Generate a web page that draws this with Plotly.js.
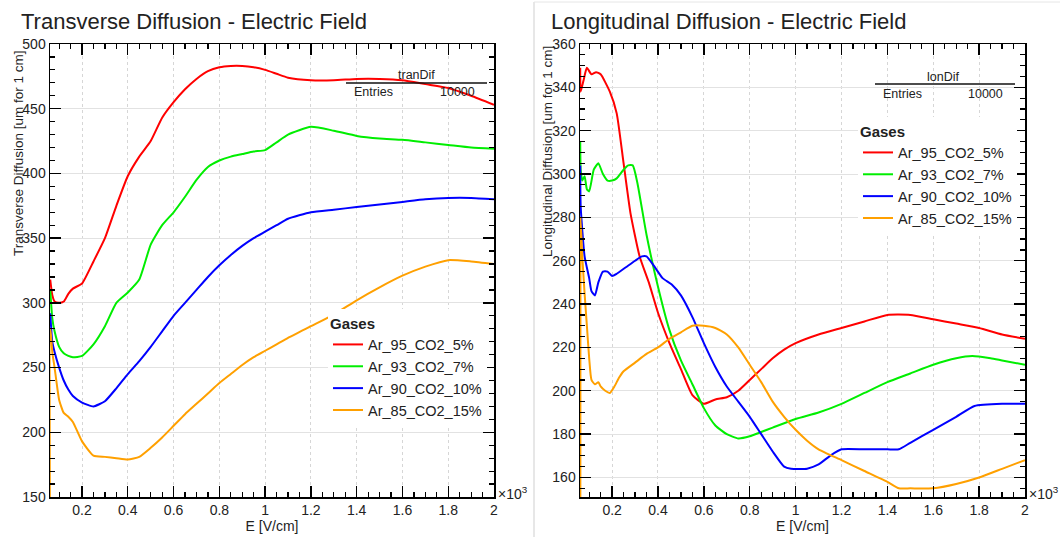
<!DOCTYPE html>
<html>
<head>
<meta charset="utf-8">
<script src="https://cdn.plot.ly/plotly-3.0.1.min.js"></script>
<style>html,body{margin:0;padding:0;background:#fff;}#chart{width:1060px;height:537px;}</style>
</head>
<body>
<div id="chart"></div>
<script>
// ---------- Data (E in units of 10^3 V/cm) ----------
const gasNames = ['Ar_95_CO2_5%', 'Ar_93_CO2_7%', 'Ar_90_CO2_10%', 'Ar_85_CO2_15%'];
const gasColors = ['#ff0000', '#00ee00', '#0000ff', '#ffa000'];

// Transverse diffusion [um for 1 cm]
const tranE = [0.061,0.07,0.08,0.1,0.12,0.14,0.16,0.2,0.25,0.3,0.35,0.4,0.45,0.5,0.55,0.6,0.65,0.7,0.75,0.8,0.85,0.9,0.95,1.0,1.05,1.1,1.2,1.3,1.4,1.5,1.6,1.7,1.8,1.9,2.0];
const tran95 = [318,306,301,300,301,307,311,315,332,350,375,398,413,425,443,455,465,473,479,482,483,483,482,480,477,474,472,472,473,473,472,469,466,460,453];
const tran93 = [310,288,278,266,261,259,258,259,268,282,300,308,318,345,360,370,382,395,405,410,413,415,417,418,424,430,436,433,429,427,426,424,422,420,419];
const tran90 = [292,270,262,250,240,233,228,223,220,224,234,245,255,266,278,290,300,310,320,329,337,344,350,355,360,365,370,372,374,376,378,380,381,381,380];
const tranE85 = [0.061,0.062,0.07,0.08,0.1,0.12,0.14,0.16,0.2,0.25,0.3,0.35,0.4,0.45,0.5,0.55,0.6,0.65,0.7,0.75,0.8,0.85,0.9,0.95,1.0,1.05,1.1,1.2,1.3,1.4,1.5,1.6,1.7,1.8,1.9,2.0];
const tran85 = [0,280,262,250,225,215,212,208,193,182,181,180,179,181,188,196,205,214,222,230,238,245,252,258,263,268,273,282,291,302,312,321,328,333,332,330];

// Longitudinal diffusion [um for 1 cm]
const lonE95 = [0.061,0.063,0.075,0.09,0.11,0.13,0.15,0.19,0.22,0.25,0.28,0.32,0.36,0.4,0.45,0.5,0.55,0.6,0.65,0.7,0.75,0.8,0.85,0.9,0.95,1.0,1.1,1.2,1.3,1.4,1.5,1.6,1.7,1.8,1.9,2.0];
const lon95 = [349,338,343,349,346,347,346,338,328,305,282,262,250,236,222,210,198,194,196,197,200,205,210,215,219,222,226,229,232,235,235,233,231,229,226,224];
const lonE93 = [0.061,0.063,0.07,0.08,0.09,0.1,0.12,0.14,0.16,0.18,0.2,0.22,0.25,0.27,0.29,0.31,0.35,0.4,0.45,0.5,0.55,0.6,0.65,0.7,0.75,0.8,0.85,0.9,1.0,1.1,1.2,1.3,1.4,1.5,1.6,1.7,1.77,1.85,1.9,2.0];
const lon93 = [315,302,297,299,293,292,302,305,300,297,297,298,302,304,304,296,272,248,228,214,203,192,184,180,178,179,181,183,187,190,194,199,204,208,212,215,216,215,214,212];
const lonE90 = [0.061,0.063,0.08,0.1,0.11,0.125,0.14,0.16,0.18,0.2,0.22,0.26,0.3,0.33,0.35,0.38,0.42,0.46,0.5,0.55,0.6,0.65,0.7,0.75,0.8,0.85,0.9,0.95,0.98,1.05,1.1,1.15,1.2,1.3,1.4,1.45,1.5,1.6,1.7,1.78,1.9,2.0];
const lon90 = [304,285,262,252,246,244,250,255,255,253,254,257,260,262,262,258,252,249,244,234,222,211,202,195,188,180,172,165,164,164,166,170,173,173,173,173,176,182,188,193,194,194];
const lonE85 = [0.061,0.062,0.07,0.08,0.09,0.1,0.11,0.125,0.14,0.15,0.17,0.19,0.21,0.23,0.25,0.3,0.35,0.4,0.45,0.5,0.55,0.6,0.65,0.7,0.75,0.8,0.85,0.9,0.95,1.0,1.05,1.1,1.2,1.3,1.4,1.45,1.5,1.6,1.7,1.8,1.9,2.0];
const lon85 = [0,280,262,245,230,215,205,203,204,202,200,199,202,206,209,213,217,220,224,227,230,230,229,226,220,212,204,195,188,182,177,173,168,163,158,155,155,155,157,160,164,168];

const tranX = [tranE, tranE, tranE, tranE85];
const tranY = [tran95, tran93, tran90, tran85];
const lonX = [lonE95, lonE93, lonE90, lonE85];
const lonY = [lon95, lon93, lon90, lon85];

// ---------- Geometry helpers (pixels -> paper) ----------
const W = 1060, H = 537;
const px = v => v / W;
const py = v => 1 - v / H;

const FONT = 'Liberation Sans, Arial, Helvetica, sans-serif';
const TXT = '#222';

const traces = [];
for (let i = 0; i < 4; i++) {
  traces.push({
    type: 'scatter', mode: 'lines', x: tranX[i], y: tranY[i], name: gasNames[i],
    xaxis: 'x', yaxis: 'y', legend: 'legend', legendgroup: 'a' + i,
    line: {color: gasColors[i], width: 2, shape: 'spline', smoothing: 0.5},
    hoverinfo: 'skip'
  });
}
for (let i = 0; i < 4; i++) {
  traces.push({
    type: 'scatter', mode: 'lines', x: lonX[i], y: lonY[i], name: gasNames[i],
    xaxis: 'x2', yaxis: 'y2', legend: 'legend2', legendgroup: 'b' + i,
    line: {color: gasColors[i], width: 2, shape: 'spline', smoothing: 0.5},
    hoverinfo: 'skip'
  });
}

function xAxis(domain, anchor) {
  return {
    domain: domain, anchor: anchor, range: [0.06, 2.0],
    tickmode: 'linear', tick0: 0, dtick: 0.2, tickformat: '~g',
    ticks: 'inside', ticklen: 11, tickwidth: 1.3, tickcolor: '#000',
    minor: {tickmode: 'linear', tick0: 0, dtick: 0.05, ticks: 'inside', ticklen: 5, tickwidth: 1.2, tickcolor: '#000', showgrid: false},
    showline: true, linecolor: '#000', linewidth: 1.5, mirror: 'allticks',
    showgrid: true, gridcolor: '#d6d6d6', griddash: 'dot', gridwidth: 1,
    zeroline: false,
    tickfont: {family: FONT, size: 14, color: TXT},
    title: {text: 'E [V/cm]', font: {family: FONT, size: 14, color: TXT}, standoff: 2}
  };
}
function yAxis(domain, anchor, range, dtick, minor) {
  return {
    domain: domain, anchor: anchor, range: range,
    tickmode: 'linear', tick0: 0, dtick: dtick,
    ticks: 'inside', ticklen: 11, tickwidth: 1.3, tickcolor: '#000',
    minor: {tickmode: 'linear', tick0: 0, dtick: minor, ticks: 'inside', ticklen: 5, tickwidth: 1.2, tickcolor: '#000', showgrid: false},
    showline: true, linecolor: '#000', linewidth: 1.5, mirror: 'allticks',
    showgrid: true, gridcolor: '#e2e2e2', gridwidth: 1,
    zeroline: false,
    tickfont: {family: FONT, size: 14, color: TXT}
  };
}

const yDom = [py(497), py(44)];

const ann = (text, x, y, opts) => Object.assign({
  text: text, xref: 'paper', yref: 'paper', x: px(x), y: py(y),
  showarrow: false, xanchor: 'left', yanchor: 'middle',
  font: {family: FONT, size: 13, color: TXT}
}, opts || {});

const annotations = [
  ann('Transverse Diffusion - Electric Field', 19, 21, {font: {family: FONT, size: 22, color: TXT}}),
  ann('Longitudinal Diffusion - Electric Field', 549, 21, {font: {family: FONT, size: 22, color: TXT}}),
  ann('Transverse Diffusion [um for 1 cm]', 18, 153, {xanchor: 'center', textangle: -90, font: {family: FONT, size: 13.5, color: TXT}}),
  ann('Longitudinal Diffusion [um for 1 cm]', 548, 152, {xanchor: 'center', textangle: -90, font: {family: FONT, size: 13.5, color: TXT}}),
  ann('×10<sup>3</sup>', 496, 493, {font: {family: FONT, size: 14, color: TXT}}),
  ann('×10<sup>3</sup>', 1027, 493, {font: {family: FONT, size: 14, color: TXT}}),
  // stats boxes
  ann('tranDif', 416, 75, {xanchor: 'center', font: {family: FONT, size: 12.5, color: TXT}}),
  ann('Entries', 352, 92, {font: {family: FONT, size: 12.5, color: TXT}}),
  ann('10000', 477, 92, {xanchor: 'right', font: {family: FONT, size: 12.5, color: TXT}}),
  ann('lonDif', 943, 77, {xanchor: 'center', font: {family: FONT, size: 12.5, color: TXT}}),
  ann('Entries', 881, 94, {font: {family: FONT, size: 12.5, color: TXT}}),
  ann('10000', 1005, 94, {xanchor: 'right', font: {family: FONT, size: 12.5, color: TXT}})
];

const shapes = [
  {type: 'line', xref: 'paper', yref: 'paper', x0: px(346), x1: px(487), y0: py(83), y1: py(83), line: {color: '#111', width: 1.3}},
  {type: 'line', xref: 'paper', yref: 'paper', x0: px(875), x1: px(1015), y0: py(84), y1: py(84), line: {color: '#111', width: 1.3}},
  {type: 'line', xref: 'paper', yref: 'paper', x0: px(534), x1: px(534), y0: 0, y1: py(2), line: {color: '#cfcfcf', width: 1}},
  {type: 'line', xref: 'paper', yref: 'paper', x0: px(534), x1: 1, y0: py(2), y1: py(2), line: {color: '#e6e6e6', width: 1}}
];

const legendBase = {
  bgcolor: '#ffffff', borderwidth: 0, itemwidth: 30, tracegroupgap: 0,
  font: {family: FONT, size: 14.5, color: TXT},
  title: {text: '<b>Gases</b>', font: {family: FONT, size: 15, color: TXT}},
  xref: 'paper', yref: 'paper', xanchor: 'left', yanchor: 'top',
  itemclick: false, itemdoubleclick: false
};

const layout = {
  width: W, height: H,
  margin: {l: 0, r: 0, t: 0, b: 0},
  paper_bgcolor: '#ffffff', plot_bgcolor: '#ffffff',
  showlegend: true,
  xaxis: xAxis([px(50), px(494)], 'y'),
  yaxis: yAxis(yDom, 'x', [150, 500], 50, 10),
  xaxis2: xAxis([px(580), px(1025)], 'y2'),
  yaxis2: yAxis(yDom, 'x2', [151, 360], 20, 5),
  legend: Object.assign({}, legendBase, {x: px(328), y: py(309)}),
  legend2: Object.assign({}, legendBase, {x: px(858), y: py(117)}),
  annotations: annotations,
  shapes: shapes
};

Plotly.newPlot('chart', traces, layout, {displayModeBar: false, staticPlot: true});
</script>
</body>
</html>
